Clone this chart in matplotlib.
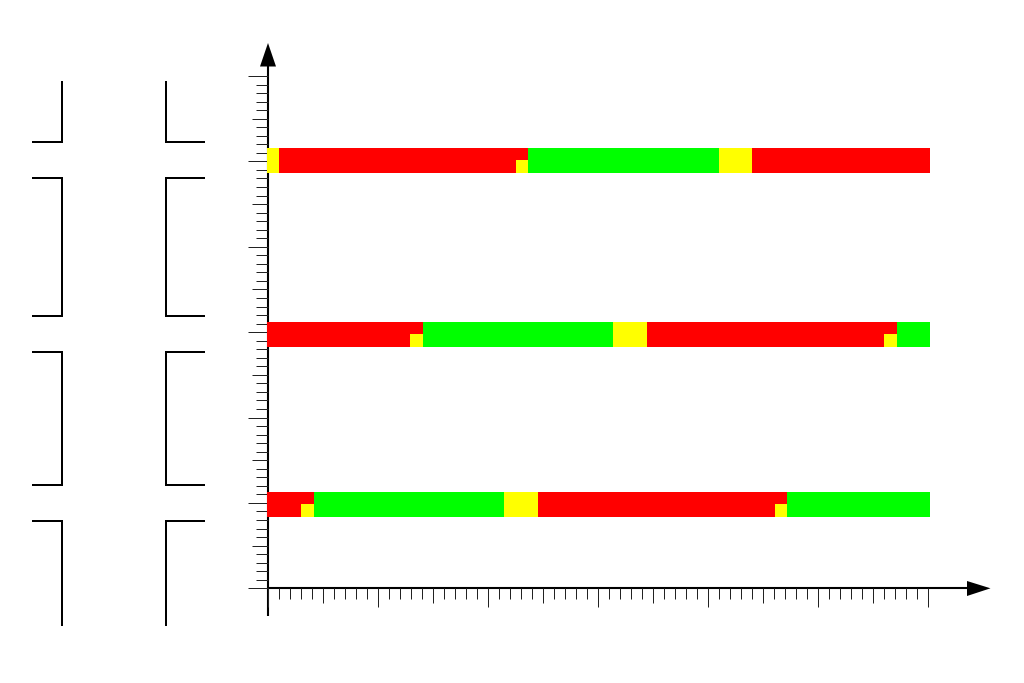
import matplotlib
matplotlib.use("Agg")
import matplotlib.pyplot as plt
from matplotlib.patches import Polygon

RED, GREEN, YELLOW = "#ff0000", "#00ff00", "#ffff00"

# Signal rows: lower edge, height
row_bottoms = [8.35, 28.25, 48.65]
row_height = 2.9

# Full-height segments per row: (start, end, colour)
row1_segments = [(-0.05, 4.18, RED), (4.18, 21.45, GREEN), (21.45, 24.55, YELLOW),
                 (24.55, 47.2, RED), (47.2, 60.15, GREEN)]
row2_segments = [(-0.05, 14.1, RED), (14.1, 31.4, GREEN), (31.4, 34.45, YELLOW),
                 (34.45, 57.15, RED), (57.15, 60.15, GREEN)]
row3_segments = [(-0.05, 1.0, YELLOW), (1.0, 23.6, RED), (23.6, 41.0, GREEN),
                 (41.0, 44.03, YELLOW), (44.03, 60.15, RED)]

# Small lower-half yellow blocks per row: (start, end)
row1_small = [(3.0, 4.18), (46.1, 47.2)]
row2_small = [(12.9, 14.1), (56.0, 57.15)]
row3_small = [(22.55, 23.6)]

x_ticks = list(range(0, 61))
y_ticks = list(range(0, 61))

# Road outline in page pixels (x, y polylines)
road_left = [([32, 62, 62], [142, 142, 81]), ([32, 62, 62, 32], [178, 178, 316, 316]),
             ([32, 62, 62, 32], [352, 352, 485, 485]), ([32, 62, 62], [521, 521, 626])]
road_right = [([205, 166, 166], [142, 142, 81]), ([205, 166, 166, 205], [178, 178, 316, 316]),
              ([205, 166, 166, 205], [352, 352, 485, 485]), ([205, 166, 166], [521, 521, 626])]

W, H = 1024, 683
fig = plt.figure(figsize=(W / 100, H / 100), dpi=100, facecolor="white")

page = fig.add_axes([0, 0, 1, 1])
page.set_xlim(0, W)
page.set_ylim(H, 0)
page.axis("off")
for xs, ys in road_left + road_right:
    page.plot(xs, ys, color="black", lw=1.44, solid_joinstyle="miter", solid_capstyle="butt")
page.plot([268, 970], [588.3, 588.3], color="black", lw=1.5, solid_capstyle="butt")
page.plot([268, 268], [616, 62], color="black", lw=1.5, solid_capstyle="butt")
page.add_patch(Polygon([[967, 581], [990.5, 588.3], [967, 596]], closed=True, fc="black", ec="none"))
page.add_patch(Polygon([[260, 66.5], [268, 43], [276, 66.5]], closed=True, fc="black", ec="none"))

ax = fig.add_axes([268 / W, (H - 588.3) / H, 660 / W, 512.3 / H])
ax.patch.set_alpha(0)
ax.set_xlim(0, 60)
ax.set_ylim(0, 60)
for s in ax.spines.values():
    s.set_visible(False)

for bottom, segs, small in zip(row_bottoms, [row1_segments, row2_segments, row3_segments],
                               [row1_small, row2_small, row3_small]):
    for start, end, colour in segs:
        ax.barh(bottom, end - start, left=start, height=row_height, align="edge",
                color=colour, lw=0, clip_on=False, zorder=3)
    for start, end in small:
        ax.barh(bottom, end - start, left=start, height=row_height * 0.53, align="edge",
                color=YELLOW, lw=0, clip_on=False, zorder=4)

ax.set_xticks([v for v in x_ticks if v % 10 == 0])
ax.set_xticks([v for v in x_ticks if v % 10 != 0], minor=True)
ax.set_yticks([v for v in y_ticks if v % 10 == 0])
ax.set_yticks([v for v in y_ticks if v % 10 != 0], minor=True)
ax.set_xticklabels([])
ax.set_yticklabels([])
ax.tick_params(axis="x", which="major", length=13.5, width=0.72, color="#222222", pad=2)
ax.tick_params(axis="x", which="minor", length=8, width=0.72, color="#222222")
ax.tick_params(axis="y", which="major", length=14.5, width=0.72, color="#222222")
ax.tick_params(axis="y", which="minor", length=8.5, width=0.72, color="#222222")

minor_x = [v for v in x_ticks if v % 10 != 0]
for v, tick in zip(minor_x, ax.xaxis.get_minor_ticks()):
    if v % 5 == 0:
        tick.tick1line.set_markersize(10.5)
minor_y = [v for v in y_ticks if v % 10 != 0]
for v, tick in zip(minor_y, ax.yaxis.get_minor_ticks()):
    if v % 5 == 0:
        tick.tick1line.set_markersize(11.5)

fig.savefig("out.png", dpi=100, facecolor="white")
